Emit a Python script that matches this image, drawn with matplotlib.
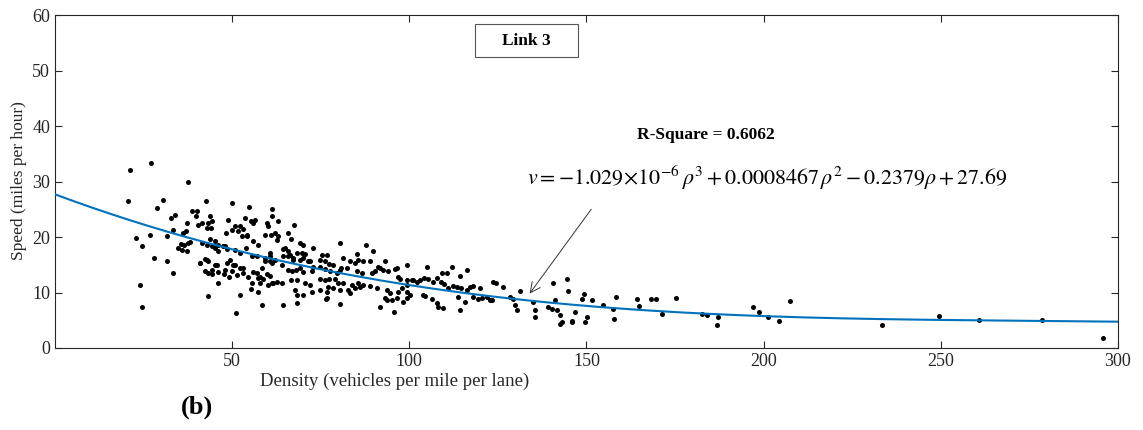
import numpy as np
import matplotlib
matplotlib.use("Agg")
import matplotlib.pyplot as plt
from matplotlib.patches import Rectangle

plt.rcParams["font.family"] = ["Liberation Serif", "DejaVu Serif"]
plt.rcParams["mathtext.fontset"] = "stix"

# Observed density (veh/mi/lane) and speed (mph) pairs, Link 3
density = [
    21.2, 27.1, 37.6, 20.5, 30.4, 28.7, 42.6, 49.9, 54.8, 61.2,
    32.7, 33.9, 38.6, 40.0, 39.7, 37.3, 40.4, 41.6, 43.7, 43.3,
    44.4, 44.0, 42.8, 48.9, 48.4, 49.9, 50.8, 53.6, 55.3, 56.4,
    56.0, 52.2, 53.1, 51.7, 54.1, 52.7, 59.7, 60.2, 61.2, 61.0,
    59.3, 33.4, 26.8, 22.9, 24.6, 31.5, 36.2, 37.0, 35.6, 36.5,
    37.5, 38.1, 34.8, 35.8, 37.2, 41.4, 42.8, 44.2, 45.1, 46.1,
    48.0,
    28.0, 31.5, 33.2, 24.0, 24.6, 43.3, 51.0, 52.2, 58.3, 55.3,
    57.2, 46.1, 40.9, 42.3, 43.3, 42.3, 43.3, 44.4, 45.2, 46.1,
    47.8, 49.1, 49.9, 50.8, 51.3, 53.1, 48.0, 48.6, 56.9, 57.4,
    57.9, 58.8, 59.7, 60.7, 55.5, 58.3, 60.2, 61.6, 61.2, 59.3,
    43.7, 45.2, 46.1, 47.5, 48.5, 50.8, 52.2, 53.8, 55.5, 56.9,
    59.3, 60.7, 62.1, 64.3, 65.9, 67.3, 69.1, 71.5, 72.9, 54.1,
    56.0, 57.4, 40.9, 42.8, 44.2, 45.6, 49.4, 50.3, 52.2, 53.1,
    54.6, 56.0, 57.9,
    63.0, 67.5, 62.1, 63.0, 62.7, 65.9, 66.5, 69.1, 70.1, 72.9,
    64.9, 65.9, 64.4, 66.3, 68.2, 69.6, 70.5, 69.1, 70.1, 67.3,
    72.0, 75.3, 76.9, 74.8, 76.2, 77.4, 78.6, 80.4, 81.4, 83.3,
    84.7, 85.3, 85.6, 87.0, 87.8, 88.9, 89.8, 91.3, 93.1, 96.4,
    99.3, 60.7, 60.7,
    64.0, 65.9, 66.8, 68.0, 70.1, 72.4, 74.8, 76.2, 77.6, 79.5,
    80.4, 82.3, 85.2, 86.6, 89.4, 90.3, 91.7, 92.7, 94.1, 96.0,
    96.9, 99.3, 100.7, 102.1,
    61.2, 62.6, 64.0, 66.5, 68.2, 70.6, 72.0, 74.8, 76.2, 77.4,
    79.0, 80.0, 81.4, 83.7, 85.6, 87.0, 88.9, 90.8, 93.6, 94.6,
    96.9, 97.9, 99.3, 100.2,
    67.7, 68.2, 70.1, 72.4, 74.8, 76.7, 77.1, 78.6, 80.4, 82.8,
    83.3, 84.7, 86.1, 93.1, 95.0, 96.4, 98.3, 99.3,
    64.4, 68.2, 76.5, 80.4, 91.7, 95.7, 80.7, 97.4, 76.7, 93.6,
    104.9, 110.5, 112.0, 116.2, 99.3, 101.1, 103.0, 104.1, 105.4, 106.6,
    107.7, 108.9, 109.8, 111.0, 112.4, 114.5, 116.2, 118.1, 120.0, 123.5,
    124.6, 126.5, 118.1, 120.4, 122.8, 114.3, 109.6, 107.7, 103.9, 106.3,
    129.4, 131.2, 130.3, 135.5, 135.0, 139.2, 140.5, 141.6, 142.5, 144.4,
    144.9, 145.8, 146.8, 148.6, 149.6, 150.1, 151.5, 109.1, 114.3, 113.4,
    117.1, 104.4, 108.2, 113.8, 115.7, 119.5, 121.8, 123.2, 128.4, 129.8,
    135.5, 140.2, 141.1, 142.5, 143.0, 146.0,
    149.3, 154.6, 157.4, 157.8, 158.2, 164.2, 164.8, 168.2, 169.5, 171.2,
    175.4, 182.5, 184.1, 186.7, 187.2, 197.1, 198.8, 201.3, 204.4, 207.4,
    233.3, 249.6, 260.8, 278.5, 295.7,
]
speed = [
    32.1, 33.3, 30.0, 26.4, 26.7, 25.2, 26.4, 26.2, 25.4, 25.0,
    23.5, 24.0, 24.6, 24.6, 23.8, 22.5, 22.2, 22.5, 23.7, 22.5,
    22.9, 21.6, 21.6, 23.1, 20.7, 21.3, 22.0, 23.4, 22.9, 23.1,
    22.5, 21.9, 21.4, 21.0, 20.4, 20.1, 22.5, 21.9, 23.7, 20.4,
    20.4, 21.3, 20.4, 19.8, 18.3, 20.1, 20.7, 21.1, 18.7, 18.6,
    18.9, 19.1, 18.0, 17.7, 17.4, 18.9, 18.6, 18.3, 18.0, 17.4,
    18.3,
    16.2, 15.7, 13.6, 11.4, 7.3, 9.4, 6.3, 9.5, 7.7, 10.6,
    10.1, 11.8, 15.4, 16.0, 15.6, 13.9, 13.6, 13.3, 15.0, 13.7,
    13.3, 12.8, 13.9, 15.0, 13.2, 14.4, 14.1, 15.3, 13.5, 12.6,
    11.7, 12.4, 13.3, 13.0, 11.7, 14.4, 11.4, 11.7, 15.3, 15.6,
    19.6, 19.2, 18.6, 18.3, 17.8, 17.7, 17.1, 18.0, 16.5, 16.6,
    16.2, 16.6, 15.9, 17.8, 16.6, 15.9, 14.4, 15.6, 14.6, 20.1,
    19.2, 18.6, 15.3, 15.9, 14.1, 15.0, 15.9, 15.0, 14.4, 13.5,
    12.8, 13.7, 12.8,
    22.8, 22.2, 20.7, 20.1, 19.5, 20.7, 19.6, 19.0, 18.6, 18.0,
    18.0, 17.4, 16.5, 16.8, 17.1, 17.1, 16.9, 15.9, 16.2, 16.2,
    15.6, 16.8, 16.8, 15.9, 15.6, 15.1, 15.0, 19.0, 16.2, 15.6,
    15.3, 16.9, 15.9, 15.6, 18.6, 15.6, 17.5, 14.6, 15.6, 14.5,
    15.0, 17.1, 15.7,
    15.0, 14.1, 13.9, 14.1, 13.75, 13.9, 14.6, 14.2, 13.9, 13.6,
    14.1, 14.4, 13.9, 13.5, 13.6, 13.9, 14.4, 14.1, 13.9, 14.2,
    12.8, 12.3, 12.3, 11.9,
    11.7, 11.9, 11.7, 12.3, 12.3, 11.7, 11.4, 12.5, 12.3, 12.4,
    12.5, 11.7, 11.7, 11.4, 11.7, 11.4, 11.2, 10.8, 10.5, 9.9,
    10.1, 10.8, 10.1, 9.5,
    10.5, 9.5, 9.5, 10.1, 10.5, 10.1, 11.0, 10.8, 10.5, 10.5,
    9.9, 10.8, 11.0, 9.0, 8.6, 9.0, 8.2, 9.0,
    7.7, 8.1, 8.8, 7.9, 7.4, 6.5, 14.4, 12.4, 9.0, 8.6,
    14.6, 13.6, 14.6, 14.1, 11.4, 12.3, 12.3, 12.7, 12.4, 11.9,
    12.6, 11.9, 11.5, 10.9, 11.2, 10.9, 10.5, 11.2, 10.8, 11.9,
    11.7, 11.0, 9.2, 9.0, 8.6, 6.8, 7.2, 8.1, 9.5, 8.8,
    8.8, 10.3, 6.8, 6.8, 8.3, 7.3, 11.7, 6.8, 4.4, 12.5,
    10.3, 4.9, 6.5, 8.8, 4.6, 5.6, 8.6, 13.6, 13.0, 11.0,
    11.0, 9.4, 7.3, 9.1, 8.3, 8.8, 9.1, 8.6, 9.1, 7.7,
    5.6, 7.1, 8.6, 5.9, 4.7, 4.7,
    9.7, 7.7, 7.1, 5.2, 9.1, 8.8, 7.6, 8.9, 8.8, 6.2,
    9.0, 6.2, 5.9, 4.1, 5.5, 7.3, 6.5, 5.5, 4.9, 8.5,
    4.1, 5.8, 5.0, 5.0, 1.8,
]

# cubic fit coefficients (highest power first)
coef = [-1.029e-6, 0.0008467, -0.2379, 27.69]
r_square = 0.6062

fig = plt.figure(figsize=(11.43, 4.30), dpi=100)
ax = fig.add_axes([0.0481, 0.1907, 0.9300, 0.7744])

ax.scatter(density, speed, s=13, color="black", zorder=3, linewidths=0)
rho = np.linspace(0, 300, 400)
ax.plot(rho, np.polyval(coef, rho), color="#0072BD", linewidth=1.5, zorder=4)

ax.set_xlim(0, 300)
ax.set_ylim(0, 60)
ax.set_xticks([50, 100, 150, 200, 250, 300])
ax.set_yticks(range(0, 61, 10))
ax.tick_params(direction="in", top=True, right=True, labelsize=13,
               length=5, width=0.8, colors="#262626")
for sp in ax.spines.values():
    sp.set_color("#262626")
    sp.set_linewidth(0.8)

fig.text(0.345, 0.112, "Density (vehicles per mile per lane)", ha="center",
         va="center", fontsize=13.5, color="#262626")
fig.text(0.017, 0.58, "Speed (miles per hour)", ha="center", va="center",
         rotation=90, fontsize=12.5, color="#262626")
fig.text(0.172, 0.052, "(b)", ha="center", va="center", fontsize=19,
         fontweight="bold")

# "Link 3" label box
ax.add_patch(Rectangle((0.395, 0.873), 0.097, 0.099, transform=ax.transAxes,
                       fc="white", ec="#555555", lw=0.8, zorder=5))
ax.text(0.4435, 0.923, "Link 3", transform=ax.transAxes, ha="center",
        va="center", fontsize=12.5, fontweight="bold", zorder=6)
ax.text(0.612, 0.64, "R-Square = %.4f" % r_square, transform=ax.transAxes,
        ha="center", va="center", fontsize=12.5, fontweight="bold")
ax.text(0.444, 0.51,
        r"$v = \mathrm{-1.029}\!\times\!\mathrm{10^{-6}}\,\rho^{3} + \mathrm{0.0008467}\,\rho^{2}"
        r" - \mathrm{0.2379}\rho + \mathrm{27.69}$",
        transform=ax.transAxes, ha="left", va="center", fontsize=15.8)
ax.annotate("", xy=(133.5, 9.4), xytext=(151.8, 25.4),
            arrowprops=dict(arrowstyle="->", color="#333333", lw=0.7,
                            mutation_scale=18))

fig.savefig("out.png", dpi=100)
